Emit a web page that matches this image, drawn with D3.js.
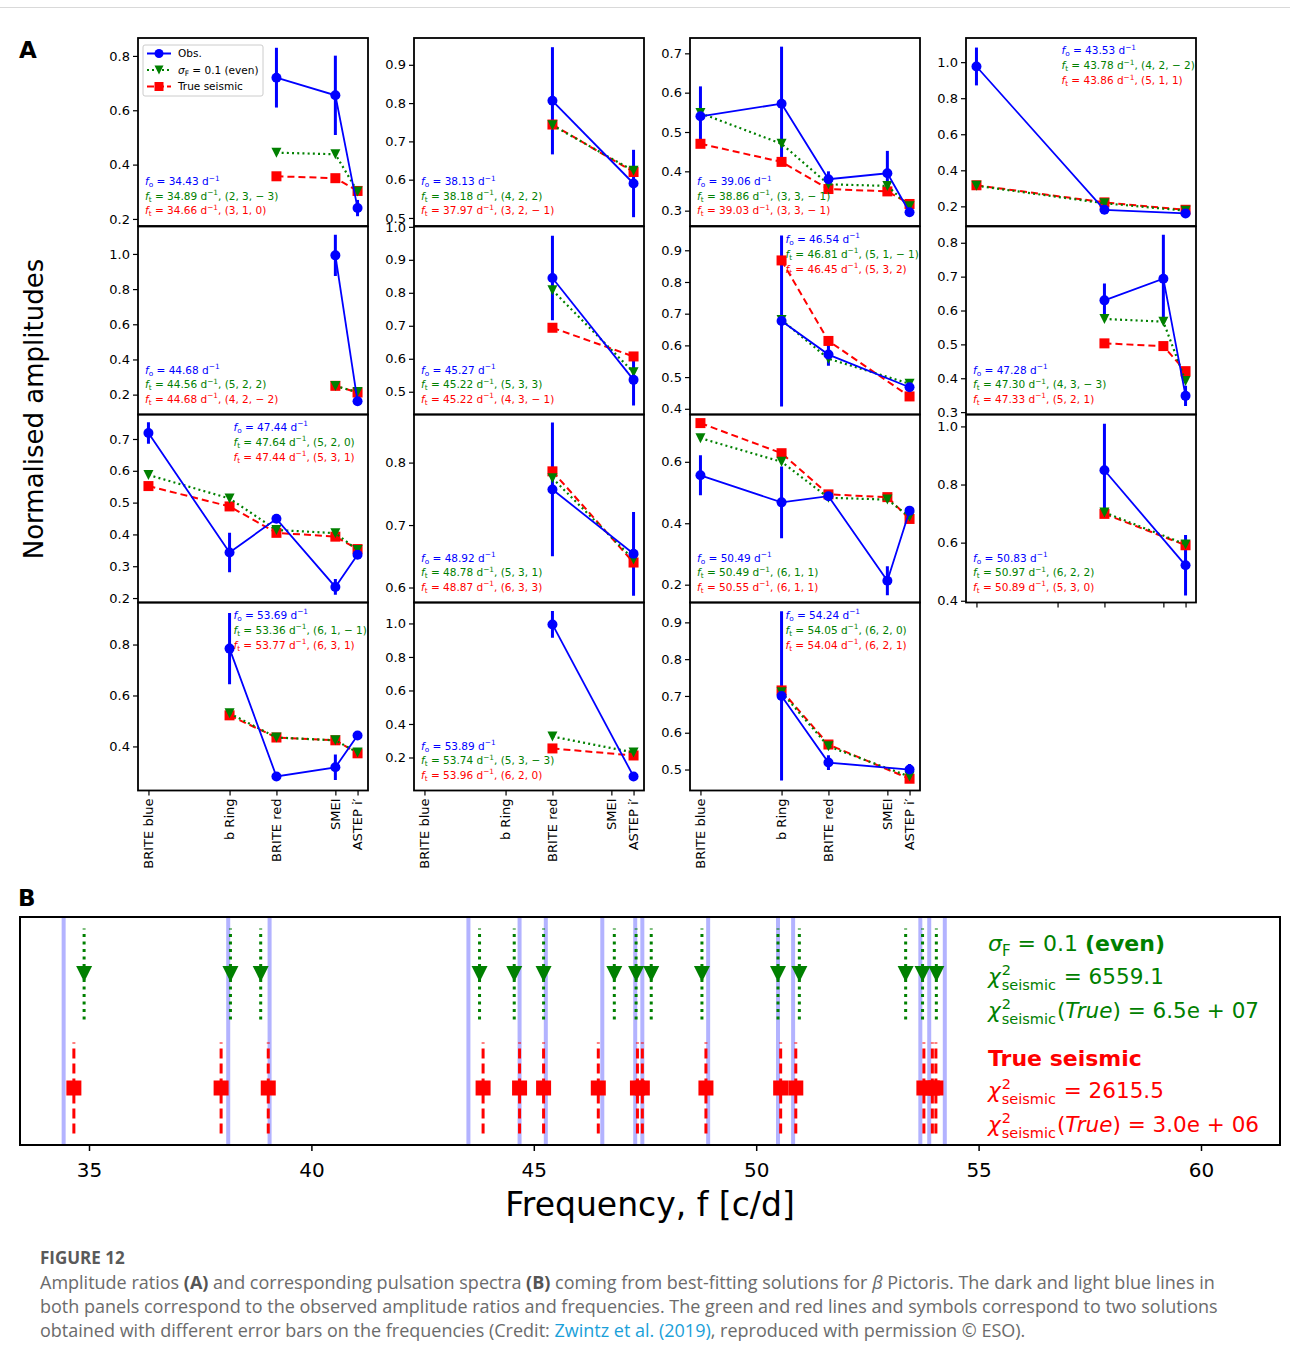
<!DOCTYPE html>
<html><head><meta charset="utf-8">
<script src="https://cdn.jsdelivr.net/npm/d3@7"></script>
<style>body{margin:0;background:#fff;} svg{display:block;font-family:"DejaVu Sans",sans-serif;}</style>
</head><body><svg id="c" width="1290" height="1362"></svg>
<script>
// ---------------- DATA ----------------
const bands = ["BRITE blue", "b Ring", "BRITE red", "SMEI", "ASTEP i′"];
const bandWavelength = [420, 548, 622, 715, 750];

const fObs  = [34.43,38.13,39.06,43.53,44.68,45.27,46.54,47.28,47.44,48.92,50.49,50.83,53.69,53.89,54.24];
const fEven = [34.89,38.18,38.86,43.78,44.56,45.22,46.81,47.30,47.64,48.78,50.49,50.97,53.36,53.74,54.05];
const fTrue = [34.66,37.97,39.03,43.86,44.68,45.22,46.45,47.33,47.44,48.87,50.55,50.89,53.77,53.96,54.04];
const modeEven = ["2, 3, − 3","4, 2, 2","3, 3, − 1","4, 2, − 2","5, 2, 2","5, 3, 3","5, 1, − 1","4, 3, − 3","5, 2, 0","5, 3, 1","6, 1, 1","6, 2, 2","6, 1, − 1","5, 3, − 3","6, 2, 0"];
const modeTrue = ["3, 1, 0","3, 2, − 1","3, 3, − 1","5, 1, 1","4, 2, − 2","4, 3, − 1","5, 3, 2","5, 2, 1","5, 3, 1","6, 3, 3","6, 1, 1","5, 3, 0","6, 3, 1","6, 2, 0","6, 2, 1"];

const obsAmp = [
 [null,null,0.720,0.655,0.240],
 [null,null,0.806,null,0.590],
 [0.540,0.572,0.380,0.395,0.296],
 [0.976,null,0.181,null,0.161],
 [null,null,null,0.992,0.162],
 [null,null,0.845,null,0.536],
 [null,0.677,0.571,null,0.468],
 [null,null,0.630,0.694,0.348],
 [0.719,0.343,0.449,0.235,0.336],
 [null,null,0.757,null,0.654],
 [0.556,0.468,0.488,0.213,0.441],
 [null,null,0.849,null,0.522],
 [null,0.784,0.282,0.318,0.443],
 [null,null,0.994,null,0.087],
 [null,0.700,0.519,null,0.500]
];
const obsErr = [
 [null,null,0.110,0.146,0.030],
 [null,null,0.140,null,0.088],
 [0.076,0.145,0.020,0.057,0.010],
 [0.105,null,0.010,null,0.010],
 [null,null,null,0.117,0.010],
 [null,null,0.128,null,0.078],
 [null,0.270,0.035,null,0.015],
 [null,null,0.050,0.130,0.030],
 [0.034,0.062,0.010,0.025,0.010],
 [null,null,0.107,null,0.067],
 [0.065,0.117,0.010,0.047,0.010],
 [null,null,0.160,null,0.104],
 [null,0.140,0.010,0.050,0.010],
 [null,null,0.080,null,0.010],
 [null,0.230,0.020,null,0.015]
];
const evenAmp = [
 [null,null,0.444,0.438,0.301],
 [null,null,0.742,null,0.623],
 [0.548,0.470,0.367,0.363,0.311],
 [0.314,null,0.217,null,0.176],
 [null,null,null,0.249,0.215],
 [null,null,0.808,null,0.559],
 [null,0.680,0.558,null,0.479],
 [null,null,0.575,0.567,0.392],
 [0.587,0.513,0.414,0.404,0.351],
 [null,null,0.775,null,0.645],
 [0.677,0.600,0.483,0.477,0.421],
 [null,null,0.704,null,0.594],
 [null,0.530,0.435,0.424,0.376],
 [null,null,0.325,null,0.230],
 [null,0.710,0.563,null,0.481]
];
const trueAmp = [
 [null,null,0.357,0.350,0.303],
 [null,null,0.744,null,0.620],
 [0.470,0.424,0.355,0.349,0.317],
 [0.317,null,0.222,null,0.181],
 [null,null,null,0.250,0.212],
 [null,null,0.694,null,0.607],
 [null,0.868,0.614,null,0.439],
 [null,null,0.503,0.495,0.421],
 [0.552,0.488,0.405,0.393,0.354],
 [null,null,0.786,null,0.640],
 [0.726,0.628,0.494,0.485,0.414],
 [null,null,0.699,null,0.591],
 [null,0.522,0.435,0.424,0.373],
 [null,null,0.254,null,0.212],
 [null,0.715,0.568,null,0.475]
];
const yLimits = [
 [0.174,0.866],[0.479,0.970],[0.261,0.739],[0.091,1.134],
 [0.087,1.156],[0.431,1.001],[0.382,0.975],[0.293,0.848],
 [0.186,0.777],[0.576,0.877],[0.142,0.754],[0.394,1.041],
 [0.227,0.965],[0.003,1.125],[0.443,0.954]
];
const yTicks = [
 [0.2,0.4,0.6,0.8],[0.5,0.6,0.7,0.8,0.9],[0.3,0.4,0.5,0.6,0.7],[0.2,0.4,0.6,0.8,1.0],
 [0.2,0.4,0.6,0.8,1.0],[0.5,0.6,0.7,0.8,0.9,1.0],[0.4,0.5,0.6,0.7,0.8,0.9],[0.3,0.4,0.5,0.6,0.7,0.8],
 [0.2,0.3,0.4,0.5,0.6,0.7],[0.6,0.7,0.8],[0.2,0.4,0.6],[0.4,0.6,0.8,1.0],
 [0.4,0.6,0.8],[0.2,0.4,0.6,0.8,1.0],[0.5,0.6,0.7,0.8,0.9]
];
const annotAtTop = [false,false,false,true,false,false,true,false,true,false,false,false,true,false,true];
const freqTicks = [35,40,45,50,55,60];
const legendLabels = ["Obs.", "σF = 0.1 (even)", "True seismic"];
const chi2Even = "6559.1", chi2EvenTrue = "6.5e + 07";
const chi2True = "2615.5", chi2TrueTrue = "3.0e + 06";

// ---------------- DRAW ----------------
const BLUE = "#0000ff", GREEN = "#008000", RED = "#ff0000";
const svg = d3.select("#c");
svg.append("rect").attr("width",1290).attr("height",1362).attr("fill","#fff");
svg.append("line").attr("x1",0).attr("x2",1290).attr("y1",7.5).attr("y2",7.5).attr("stroke","#d9d9d9").attr("stroke-width",1);

const colLeft = [138, 414, 690, 966], rowTop = [38, 226.5, 414.5, 602.5];
const PW = 230, PH = 188;
const xSpan = bandWavelength[4] - bandWavelength[0];
const xLim = [bandWavelength[0] - 0.05 * xSpan, bandWavelength[4] + 0.05 * xSpan];
const defs = svg.append("defs");

function triDown(cx, cy, s) { return `M${cx-s},${cy-s}L${cx+s},${cy-s}L${cx},${cy+s}Z`; }

function annot(g, xp, yp, color, sub, val, mode, fs) {
  const t = g.append("text").attr("x", xp).attr("y", yp).attr("fill", color).attr("font-size", fs);
  t.append("tspan").attr("font-style", "italic").text("f");
  t.append("tspan").attr("font-size", fs * 0.7).attr("dy", fs * 0.22).text(sub);
  t.append("tspan").attr("dy", -fs * 0.22).text(" = " + val.toFixed(2) + " d");
  t.append("tspan").attr("font-size", fs * 0.7).attr("dy", -fs * 0.42).text("−1");
  t.append("tspan").attr("dy", fs * 0.42).text(mode ? ", (" + mode + ")" : "");
}

obsAmp.forEach((_, i) => {
  const r = Math.floor(i / 4), c = i % 4;
  const x0 = colLeft[c], y0 = rowTop[r];
  const x = d3.scaleLinear().domain(xLim).range([x0, x0 + PW]);
  const y = d3.scaleLinear().domain(yLimits[i]).range([y0 + PH, y0]);
  const g = svg.append("g");
  defs.append("clipPath").attr("id", "cp" + i).append("rect").attr("x", x0).attr("y", y0).attr("width", PW).attr("height", PH);
  const pg = g.append("g").attr("clip-path", `url(#cp${i})`);

  const pts = (arr) => bands.map((b, k) => ({k, v: arr[i][k]})).filter(d => d.v !== null);
  const line = d3.line().x(d => x(bandWavelength[d.k])).y(d => y(d.v));

  pts(obsAmp).forEach(d => {
    const e = obsErr[i][d.k];
    pg.append("line").attr("x1", x(bandWavelength[d.k])).attr("x2", x(bandWavelength[d.k]))
      .attr("y1", y(d.v - e)).attr("y2", y(d.v + e)).attr("stroke", BLUE).attr("stroke-width", 3);
  });
  const pr = pts(trueAmp);
  pg.append("path").attr("d", line(pr)).attr("fill", "none").attr("stroke", RED).attr("stroke-width", 2).attr("stroke-dasharray", "7,4");
  pr.forEach(d => pg.append("rect").attr("x", x(bandWavelength[d.k]) - 5).attr("y", y(d.v) - 5).attr("width", 10).attr("height", 10).attr("fill", RED));
  const pe = pts(evenAmp);
  pg.append("path").attr("d", line(pe)).attr("fill", "none").attr("stroke", GREEN).attr("stroke-width", 2.2).attr("stroke-dasharray", "2,3.2");
  pe.forEach(d => pg.append("path").attr("d", triDown(x(bandWavelength[d.k]), y(d.v), 5)).attr("fill", GREEN));
  const po = pts(obsAmp);
  pg.append("path").attr("d", line(po)).attr("fill", "none").attr("stroke", BLUE).attr("stroke-width", 1.8);
  po.forEach(d => pg.append("circle").attr("cx", x(bandWavelength[d.k])).attr("cy", y(d.v)).attr("r", 5).attr("fill", BLUE));

  const ya = g.append("g").attr("transform", `translate(${x0},0)`)
    .call(d3.axisLeft(y).tickValues(yTicks[i]).tickSize(5).tickPadding(3).tickFormat(d3.format(".1f")));
  ya.select(".domain").remove();
  ya.selectAll("text").attr("font-size", 13).attr("font-family", "DejaVu Sans").attr("fill", "#000");
  ya.selectAll("line").attr("stroke", "#000").attr("stroke-width", 1.2);

  if (r === 3 || i === 11) {
    const xa = g.append("g").attr("transform", `translate(0,${y0 + PH})`)
      .call(d3.axisBottom(x).tickValues(bandWavelength).tickSize(5).tickFormat(""));
    xa.select(".domain").remove();
    xa.selectAll("line").attr("stroke", "#000").attr("stroke-width", 1.2);
    if (r === 3) {
      bands.forEach((b, k) => {
        g.append("text").attr("transform", `translate(${x(bandWavelength[k])},${y0 + PH + 8}) rotate(-90)`)
          .attr("text-anchor", "end").attr("dominant-baseline", "central")
          .attr("font-size", 13).attr("fill", "#000").text(b);
      });
    }
  }

  g.append("rect").attr("x", x0).attr("y", y0).attr("width", PW).attr("height", PH)
    .attr("fill", "none").attr("stroke", "#000").attr("stroke-width", 1.8);

  const fs = 10.5;
  let ax, ay;
  if (annotAtTop[i]) { ax = x0 + 0.415 * PW; ay = [y0 + 16, y0 + 31, y0 + 46]; }
  else { ax = x0 + 7; ay = [y0 + PH - 41, y0 + PH - 26.5, y0 + PH - 12]; }
  annot(g, ax, ay[0], BLUE, "o", fObs[i], null, fs);
  annot(g, ax, ay[1], GREEN, "t", fEven[i], modeEven[i], fs);
  annot(g, ax, ay[2], RED, "t", fTrue[i], modeTrue[i], fs);

  if (i === 0) {
    const lg = g.append("g");
    lg.append("rect").attr("x", 143).attr("y", 45).attr("width", 120).attr("height", 51).attr("rx", 2)
      .attr("fill", "#fff").attr("fill-opacity", 0.85).attr("stroke", "#cccccc").attr("stroke-width", 1);
    const ly = [53.5, 70, 86.5];
    lg.append("line").attr("x1", 147).attr("x2", 171).attr("y1", ly[0]).attr("y2", ly[0]).attr("stroke", BLUE).attr("stroke-width", 2);
    lg.append("circle").attr("cx", 159).attr("cy", ly[0]).attr("r", 4.5).attr("fill", BLUE);
    lg.append("line").attr("x1", 147).attr("x2", 171).attr("y1", ly[1]).attr("y2", ly[1]).attr("stroke", GREEN).attr("stroke-width", 2.2).attr("stroke-dasharray", "2,3");
    lg.append("path").attr("d", triDown(159, ly[1], 4.5)).attr("fill", GREEN);
    lg.append("line").attr("x1", 147).attr("x2", 171).attr("y1", ly[2]).attr("y2", ly[2]).attr("stroke", RED).attr("stroke-width", 2).attr("stroke-dasharray", "7,3");
    lg.append("rect").attr("x", 154.5).attr("y", ly[2] - 4.5).attr("width", 9).attr("height", 9).attr("fill", RED);
    lg.append("text").attr("x", 178).attr("y", ly[0] + 3.8).attr("font-size", 10.5).text(legendLabels[0]);
    const t1 = lg.append("text").attr("x", 178).attr("y", ly[1] + 3.8).attr("font-size", 10.5);
    t1.append("tspan").attr("font-style", "italic").text("σ");
    t1.append("tspan").attr("font-size", 7.5).attr("dy", 2.5).text("F");
    t1.append("tspan").attr("dy", -2.5).text(" = 0.1 (even)");
    lg.append("text").attr("x", 178).attr("y", ly[2] + 3.8).attr("font-size", 10.5).text(legendLabels[2]);
  }
});

svg.append("text").attr("x", 19).attr("y", 58).attr("font-size", 23).attr("font-weight", "bold").text("A");
svg.append("text").attr("x", 18).attr("y", 906).attr("font-size", 23).attr("font-weight", "bold").text("B");
svg.append("text").attr("transform", "translate(43,409) rotate(-90)").attr("text-anchor", "middle")
  .attr("font-size", 26).text("Normalised amplitudes");

// ---------------- PANEL B ----------------
const bx0 = 20, bx1 = 1280, by0 = 917, by1 = 1145;
const fx = d3.scaleLinear().domain([35, 60]).range([89, 1201]);
const fy = d3.scaleLinear().domain([0, 1]).range([by1, by0]);
const gB = svg.append("g");
defs.append("clipPath").attr("id", "cpB").append("rect").attr("x", bx0).attr("y", by0).attr("width", bx1 - bx0).attr("height", by1 - by0);
const pB = gB.append("g").attr("clip-path", "url(#cpB)");
fObs.forEach(f => pB.append("line").attr("x1", fx(f)).attr("x2", fx(f)).attr("y1", by0).attr("y2", by1)
  .attr("stroke", "#b3b3ff").attr("stroke-width", 4));
fEven.forEach(f => {
  pB.append("line").attr("x1", fx(f)).attr("x2", fx(f)).attr("y1", fy(0.55)).attr("y2", fy(0.95))
    .attr("stroke", GREEN).attr("stroke-width", 3).attr("stroke-dasharray", "3,4.5");
  pB.append("path").attr("d", triDown(fx(f), fy(0.75), 8)).attr("fill", GREEN);
});
fTrue.forEach(f => {
  pB.append("line").attr("x1", fx(f)).attr("x2", fx(f)).attr("y1", fy(0.05)).attr("y2", fy(0.45))
    .attr("stroke", RED).attr("stroke-width", 3).attr("stroke-dasharray", "10,5");
  pB.append("rect").attr("x", fx(f) - 7.5).attr("y", fy(0.25) - 7.5).attr("width", 15).attr("height", 15).attr("fill", RED);
});
const bAxis = gB.append("g").attr("transform", `translate(0,${by1})`)
  .call(d3.axisBottom(fx).tickValues(freqTicks).tickSize(6).tickPadding(12));
bAxis.select(".domain").remove();
bAxis.selectAll("text").attr("font-size", 20).attr("font-family", "DejaVu Sans").attr("fill", "#000");
bAxis.selectAll("line").attr("stroke", "#000").attr("stroke-width", 1.5);
gB.append("rect").attr("x", bx0).attr("y", by0).attr("width", bx1 - bx0).attr("height", by1 - by0)
  .attr("fill", "none").attr("stroke", "#000").attr("stroke-width", 2);
gB.append("text").attr("x", 650).attr("y", 1216).attr("text-anchor", "middle").attr("font-size", 33).text("Frequency, f [c/d]");

function chiLine(x, yb, color, val, withTrue) {
  const fs = 21.5, ss = 14.5;
  const chi = gB.append("text").attr("x", x).attr("y", yb).attr("font-size", fs).attr("fill", color).attr("font-style", "italic").text("χ");
  const w = chi.node().getComputedTextLength();
  gB.append("text").attr("x", x + w + 1).attr("y", yb - 9).attr("font-size", ss).attr("fill", color).text("2");
  const sub = gB.append("text").attr("x", x + w + 1).attr("y", yb + 6).attr("font-size", ss).attr("fill", color).text("seismic");
  const ws = sub.node().getComputedTextLength();
  const t = gB.append("text").attr("x", x + w + 1 + ws + 1).attr("y", yb).attr("font-size", fs).attr("fill", color)
    .attr("xml:space", "preserve").style("white-space", "pre");
  if (withTrue) {
    t.append("tspan").text("(");
    t.append("tspan").attr("font-style", "italic").text("True");
    t.append("tspan").text(") = " + val);
  } else {
    t.text(" = " + val);
  }
}
const lx = 988;
const sg = gB.append("text").attr("x", lx).attr("y", 951).attr("font-size", 22).attr("fill", GREEN);
sg.append("tspan").attr("font-style", "italic").text("σ");
sg.append("tspan").attr("font-size", 15).attr("dy", 5).text("F");
sg.append("tspan").attr("dy", -5).text(" = 0.1 ");
sg.append("tspan").attr("font-weight", "bold").text("(even)");
chiLine(lx, 984, GREEN, chi2Even, false);
chiLine(lx, 1018, GREEN, chi2EvenTrue, true);
gB.append("text").attr("x", lx).attr("y", 1066).attr("font-size", 22).attr("font-weight", "bold").attr("fill", RED).text("True seismic");
chiLine(lx, 1098, RED, chi2True, false);
chiLine(lx, 1132, RED, chi2TrueTrue, true);

// ---------------- CAPTION ----------------
const cap = svg.append("g").attr("font-family", "'Open Sans', sans-serif").attr("fill", "#6b6b6b");
cap.append("text").attr("x", 40).attr("y", 1264).attr("font-size", 17).attr("font-weight", "bold").attr("fill", "#5a5a5a").text("FIGURE 12");
const capLines = [
  [["Amplitude ratios ",""],["(A)","b"],[" and corresponding pulsation spectra ",""],["(B)","b"],[" coming from best-fitting solutions for ",""],["β","i"],[" Pictoris. The dark and light blue lines in",""]],
  [["both panels correspond to the observed amplitude ratios and frequencies. The green and red lines and symbols correspond to two solutions",""]],
  [["obtained with different error bars on the frequencies (Credit: ",""],["Zwintz et al. (2019)","l"],[", reproduced with permission © ESO).",""]]
];
capLines.forEach((parts, li) => {
  const t = cap.append("text").attr("x", 40).attr("y", 1289 + li * 24).attr("font-size", 18);
  parts.forEach(([s, st]) => {
    const ts = t.append("tspan").text(s);
    if (st === "b") ts.attr("font-weight", "bold").attr("fill", "#555");
    if (st === "i") ts.attr("font-style", "italic");
    if (st === "l") ts.attr("fill", "#1a9fd9");
  });
});
</script></body></html>
